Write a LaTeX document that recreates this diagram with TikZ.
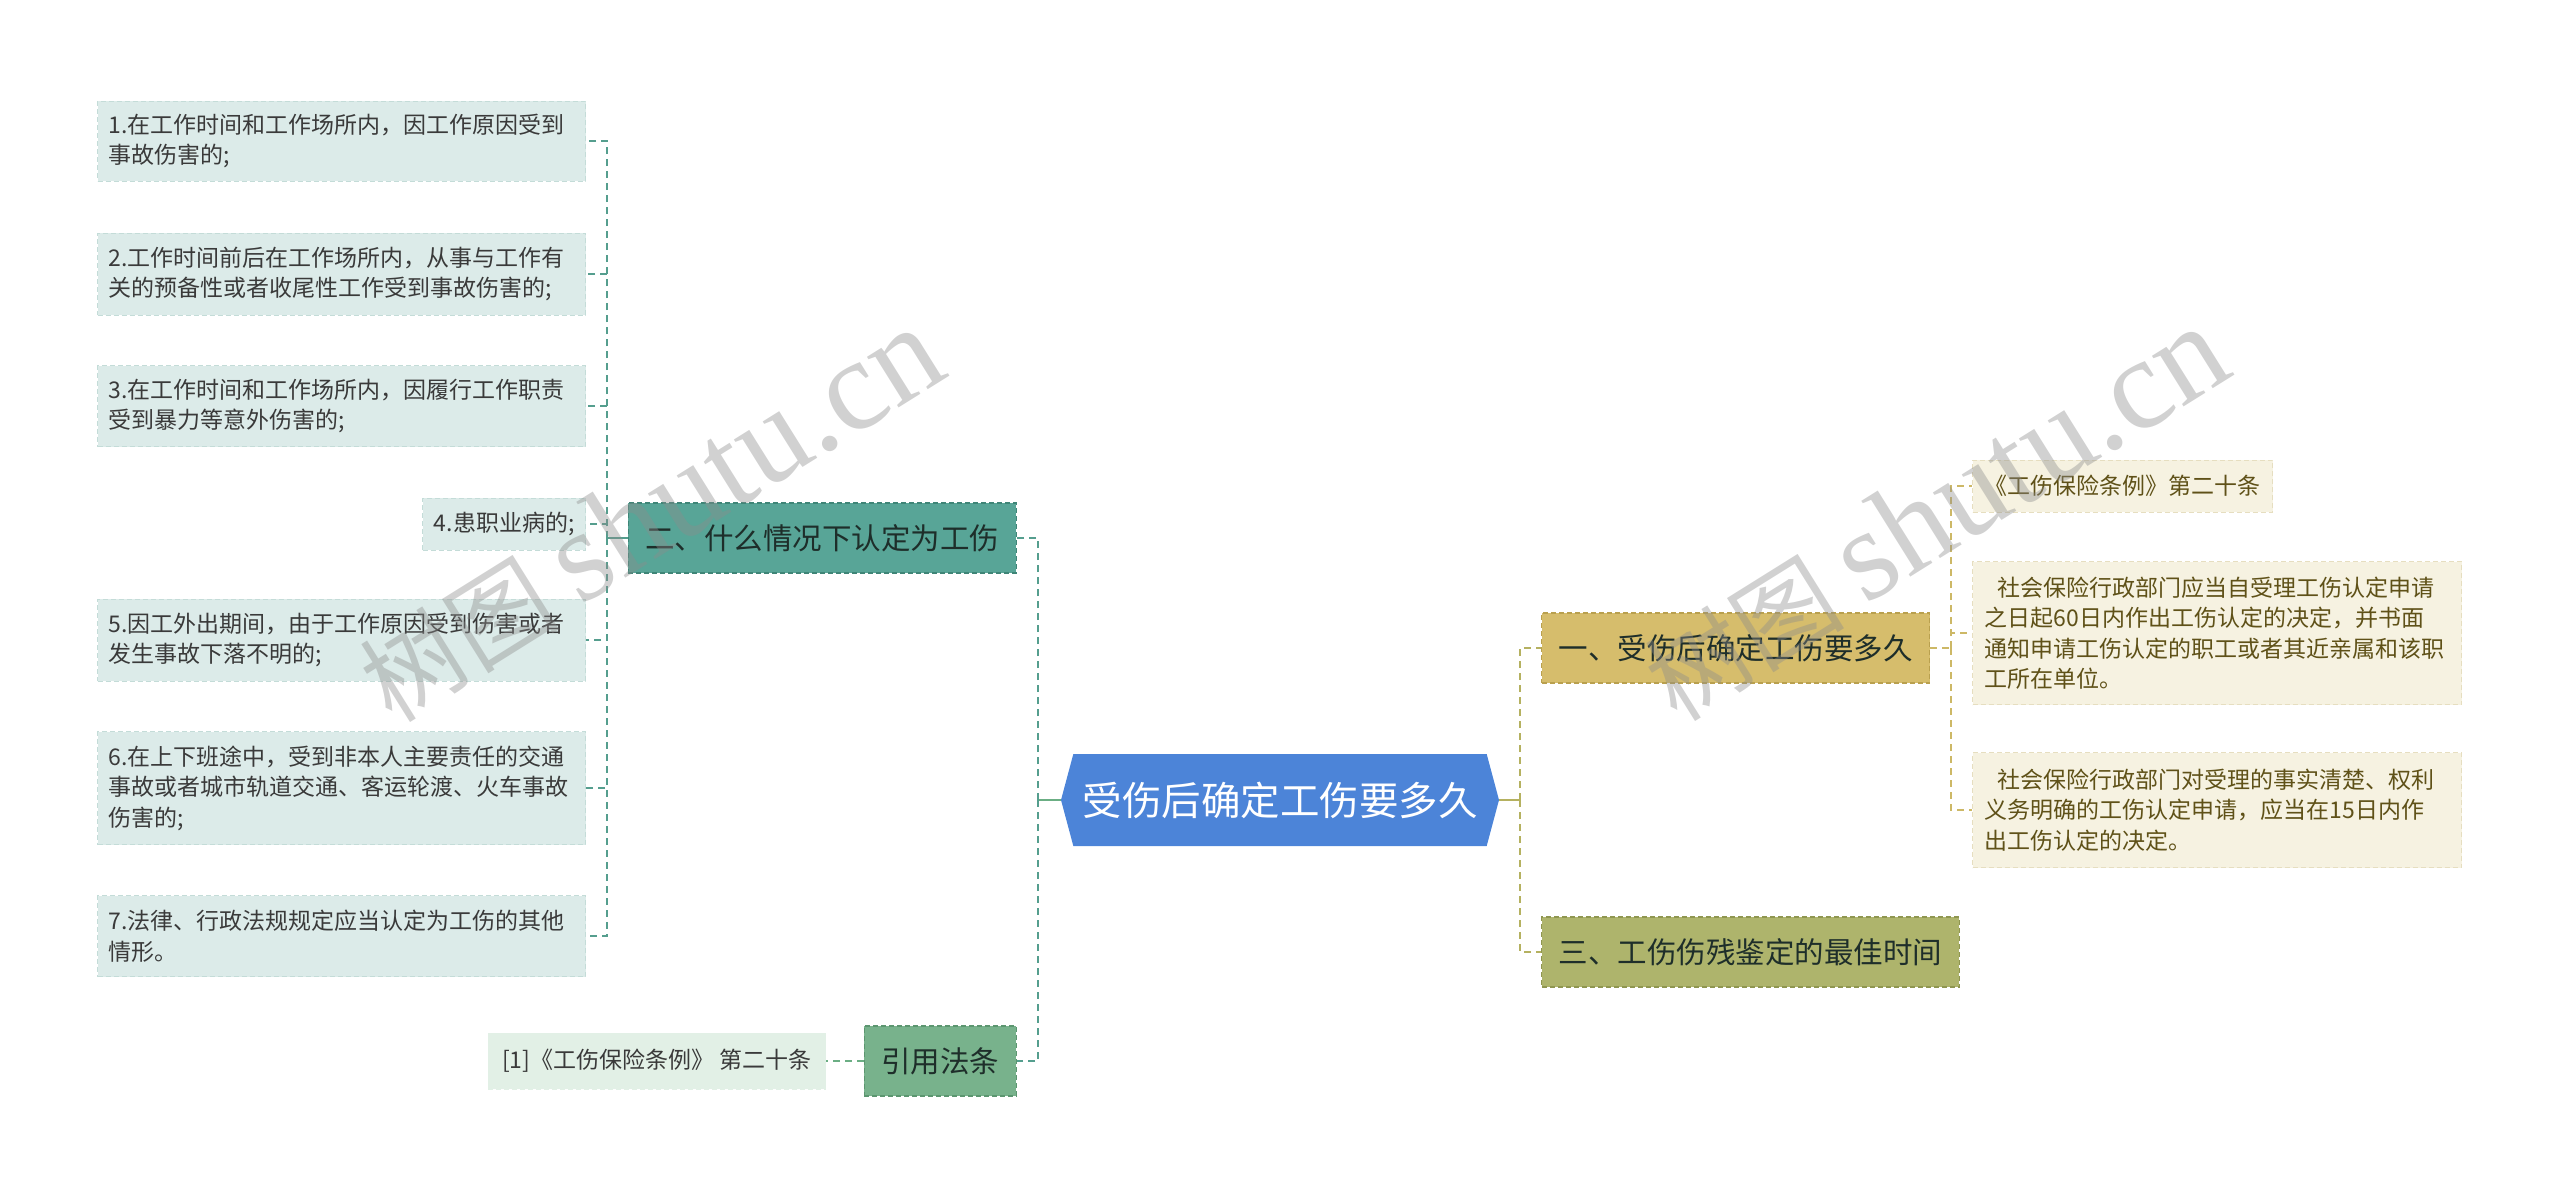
\documentclass[tikz,border=0pt]{standalone}
\usepackage{fontspec}
\setmainfont{Noto Sans CJK SC}
\newfontfamily\wmlatin{Liberation Serif}
\usetikzlibrary{shapes.symbols}
\definecolor{hexblue}{HTML}{4C84D8}
\definecolor{tealfill}{HTML}{58A597}
\definecolor{tealedge}{HTML}{3F8577}
\definecolor{tealpale}{HTML}{DCEBE9}
\definecolor{tealpaleedge}{HTML}{C4DCD8}
\definecolor{tealconn}{HTML}{559E8E}
\definecolor{greenfill}{HTML}{78B28C}
\definecolor{greenedge}{HTML}{5C9670}
\definecolor{greenpale}{HTML}{E2F0E6}
\definecolor{greenconn}{HTML}{6BAE84}
\definecolor{goldfill}{HTML}{D6BD6C}
\definecolor{goldedge}{HTML}{B9A04E}
\definecolor{goldconn}{HTML}{CDB866}
\definecolor{olivefill}{HTML}{AEB46C}
\definecolor{oliveedge}{HTML}{8F9650}
\definecolor{oliveconn}{HTML}{B5B160}
\definecolor{creamfill}{HTML}{F6F2E1}
\definecolor{creamedge}{HTML}{E6DEC0}
\definecolor{topictext}{HTML}{1E2E2A}
\definecolor{leaftext}{HTML}{3A3A3A}
\definecolor{creamtext}{HTML}{5F5118}

\begin{document}
\begin{tikzpicture}[x=1pt, y=-1pt,
  every node/.style = {align=left, inner ysep=0pt},
  hexnode/.style = {signal, signal to=west and east, signal pointer angle=150,
    fill=hexblue, text=white, minimum height=92pt, minimum width=438pt,
    font=\fontsize{39.5}{46}\selectfont},
  topic/.style = {draw=#1, dashed, dash pattern=on 5pt off 3pt, line width=1.2pt,
    inner xsep=17pt, minimum height=70pt, text=topictext,
    font=\fontsize{29.5}{34}\selectfont},
  leafbox/.style = {draw=#1, dash pattern=on 5pt off 3pt, line width=1pt,
    font=\fontsize{23}{30.5}\selectfont},
  tealleaf/.style = {leafbox=tealpaleedge, fill=tealpale, text=leaftext, inner xsep=11pt},
  greenleaf/.style = {leafbox=greenpale, fill=greenpale, text=leaftext, inner xsep=14pt},
  creamleaf/.style = {leafbox=creamedge, fill=creamfill, text=creamtext, inner xsep=12pt},
  wide/.style = {text width=466pt},
  conn/.style = {draw=#1, line width=2pt, dash pattern=on 7pt off 5pt},
  wmark/.style = {rotate=32, text=black!45, opacity=0.4,
    font=\fontsize{100}{100}\selectfont}]
  \useasboundingbox (0,0) rectangle (2560,1197);

  \node[hexnode] (root) at (1280,800) {受伤后确定工伤要多久};
  \node[topic=tealedge, fill=tealfill, anchor=east] (why) at (1017,538) {二、什么情况下认定为工伤};
  \node[topic=greenedge, fill=greenfill, anchor=east] (law) at (1017,1061) {引用法条};
  \node[topic=goldedge, fill=goldfill, anchor=west] (how) at (1541,648) {一、受伤后确定工伤要多久};
  \node[topic=oliveedge, fill=olivefill, anchor=west] (best) at (1541,952) {三、工伤伤残鉴定的最佳时间};

  \node[tealleaf, wide, minimum height=80pt, anchor=east] (c1) at (586,141)
    {1.在工作时间和工作场所内，因工作原因受到\\事故伤害的;};
  \node[tealleaf, wide, minimum height=82pt, anchor=east] (c2) at (586,274)
    {2.工作时间前后在工作场所内，从事与工作有\\关的预备性或者收尾性工作受到事故伤害的;};
  \node[tealleaf, wide, minimum height=81pt, anchor=east] (c3) at (586,406)
    {3.在工作时间和工作场所内，因履行工作职责\\受到暴力等意外伤害的;};
  \node[tealleaf, minimum height=52pt, anchor=east] (c4) at (586,524) {4.患职业病的;};
  \node[tealleaf, wide, minimum height=82pt, anchor=east] (c5) at (586,640)
    {5.因工外出期间，由于工作原因受到伤害或者\\发生事故下落不明的;};
  \node[tealleaf, wide, minimum height=113pt, anchor=east] (c6) at (586,788)
    {6.在上下班途中，受到非本人主要责任的交通\\事故或者城市轨道交通、客运轮渡、火车事故\\伤害的;};
  \node[tealleaf, wide, minimum height=81pt, anchor=east] (c7) at (586,936)
    {7.法律、行政法规规定应当认定为工伤的其他\\情形。};
  \node[greenleaf, minimum height=56pt, anchor=east] (ref) at (826,1061)
    {[1]《工伤保险条例》 第二十条};

  \node[creamleaf, minimum height=52pt, anchor=west] (r1) at (1972,486)
    {《工伤保险条例》第二十条};
  \node[creamleaf, text width=465pt, minimum height=143pt, anchor=west] (r2) at (1972,633)
    {\hspace*{0.55em}社会保险行政部门应当自受理工伤认定申请\\之日起60日内作出工伤认定的决定，并书面\\通知申请工伤认定的职工或者其近亲属和该职\\工所在单位。};
  \node[creamleaf, text width=465pt, minimum height=115pt, anchor=west] (r3) at (1972,810)
    {\hspace*{0.55em}社会保险行政部门对受理的事实清楚、权利\\义务明确的工伤认定申请，应当在15日内作\\出工伤认定的决定。};

  \coordinate (lj) at (1038,800);
  \coordinate (rj) at (1520,800);
  \coordinate (wj) at (607,538);
  \coordinate (hj) at (1951,648);

  \draw[conn=greenconn, solid] (root.west) -- (lj);
  \draw[conn=tealconn] (lj) |- (why.east);
  \draw[conn=tealconn] (lj) |- (law.east);
  \draw[conn=tealconn, solid] (why.west) -- (wj);
  \foreach \i in {1,...,7}
    \draw[conn=tealconn] (wj) |- (c\i.east);
  \draw[conn=greenconn] (law.west) -- (ref.east);
  \draw[conn=oliveconn, solid] (root.east) -- (rj);
  \draw[conn=oliveconn] (rj) |- (how.west);
  \draw[conn=oliveconn] (rj) |- (best.west);
  \draw[conn=goldconn] (how.east) -- (hj);
  \foreach \r in {r1,r2,r3}
    \draw[conn=goldconn] (hj) |- (\r.west);

  \node[wmark] (wm1) at (650,515) {树图 {\wmlatin\fontsize{130}{130}\selectfont shutu.cn}};
  \node[wmark] (wm2) at (1935,514) {树图 {\wmlatin\fontsize{130}{130}\selectfont shutu.cn}};
\end{tikzpicture}
\end{document}
